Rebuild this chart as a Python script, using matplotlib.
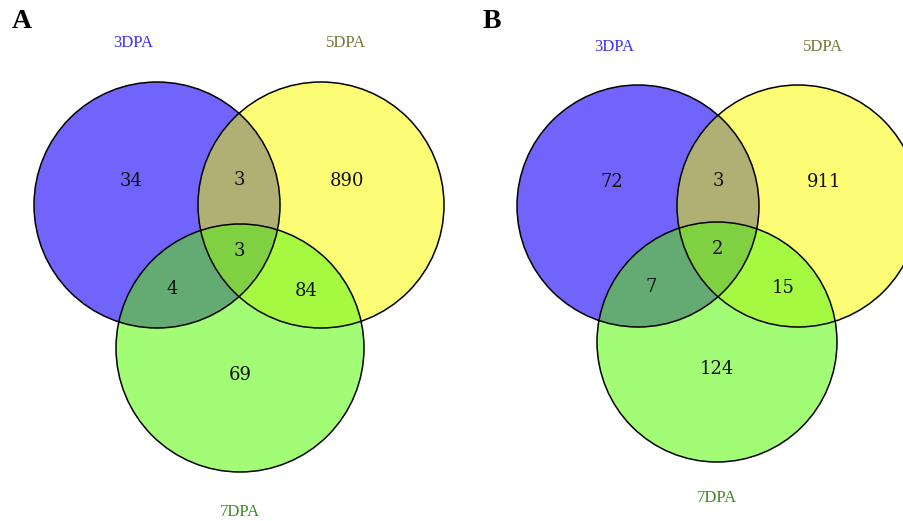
import numpy as np
import matplotlib
matplotlib.use("Agg")
import matplotlib.pyplot as plt
from matplotlib.patches import Circle, Polygon

# Set names and region counts for each panel
set_names = ["3DPA", "5DPA", "7DPA"]
panels = ["A", "B"]
# order: only 3DPA, only 5DPA, only 7DPA, 3&5, 3&7, 5&7, all three
counts_a = [34, 890, 69, 3, 4, 84, 3]
counts_b = [72, 911, 124, 3, 7, 15, 2]

name_colors = ["#3f33f5", "#76763a", "#3f8a25"]
fill_single = ["#7164fa", "#fcfc75", "#a3fc75"]
fill_ab = "#b0b075"
fill_ac = "#64aa73"
fill_bc = "#a5fa41"
fill_abc = "#7fd141"

# circle layout (figure pixel units): centers and radius per set
layout_a = {"c": [(157, 205), (321, 205), (240, 348)], "r": [123, 123, 124],
            "top": 43, "bottom": 512}
layout_b = {"c": [(638, 206), (798, 206), (717, 342)], "r": [121, 121, 120],
            "top": 47, "bottom": 498}


def lens(c1, r1, c2, r2, n=720):
    # polygon of the intersection of two circles
    t = np.linspace(0, 2 * np.pi, n)
    p1 = np.c_[c1[0] + r1 * np.cos(t), c1[1] + r1 * np.sin(t)]
    p2 = np.c_[c2[0] + r2 * np.cos(t), c2[1] + r2 * np.sin(t)]
    p1 = p1[np.hypot(p1[:, 0] - c2[0], p1[:, 1] - c2[1]) <= r2]
    p2 = p2[np.hypot(p2[:, 0] - c1[0], p2[:, 1] - c1[1]) <= r1]
    pts = np.vstack([p1, p2])
    m = pts.mean(axis=0)
    ang = np.arctan2(pts[:, 1] - m[1], pts[:, 0] - m[0])
    return pts[np.argsort(ang)]


def draw_venn(ax, layout, counts):
    cs, rs = layout["c"], layout["r"]

    for c, r, col in zip(cs, rs, fill_single):
        ax.add_patch(Circle(c, r, facecolor=col, edgecolor="none", zorder=1))

    # pairwise overlaps, clipped to the other circle
    pairs = [(0, 1, fill_ab), (0, 2, fill_ac), (1, 2, fill_bc)]
    for i, j, col in pairs:
        clip = Circle(cs[i], rs[i], transform=ax.transData)
        p = Circle(cs[j], rs[j], facecolor=col, edgecolor="none", zorder=2)
        ax.add_patch(p)
        p.set_clip_path(clip)

    # triple overlap
    lens_ab = Polygon(lens(cs[0], rs[0], cs[1], rs[1]), closed=True,
                      transform=ax.transData)
    p = Circle(cs[2], rs[2], facecolor=fill_abc, edgecolor="none", zorder=3)
    ax.add_patch(p)
    p.set_clip_path(lens_ab)

    for c, r in zip(cs, rs):
        ax.add_patch(Circle(c, r, facecolor="none", edgecolor="black",
                            lw=1.1, zorder=4))

    (ax_, ay), (bx, by), (cx, cy) = cs
    mid_ab = (ax_ + bx) / 2
    pos = [
        (ax_ - 26, ay - 24),
        (bx + 26, by - 24),
        (cx, cy + 27),
        (mid_ab, ay - 25),
        ((ax_ + cx) / 2 - 26, (ay + cy) / 2 + 13),
        ((bx + cx) / 2 + 26, (by + cy) / 2 + 14),
        (mid_ab, (ay + cy) / 2 - 25),
    ]
    for (x, y), v in zip(pos, counts):
        ax.text(x, y, str(v), ha="center", va="center", fontsize=13,
                family="DejaVu Serif", color="#111111", zorder=5)

    # set name labels
    ax.text(ax_ - 24, layout["top"], set_names[0], color=name_colors[0],
            ha="center", va="center", fontsize=12, family="Liberation Serif")
    ax.text(bx + 25, layout["top"], set_names[1], color=name_colors[1],
            ha="center", va="center", fontsize=12, family="Liberation Serif")
    ax.text(cx, layout["bottom"], set_names[2], color=name_colors[2],
            ha="center", va="center", fontsize=12, family="Liberation Serif")


fig = plt.figure(figsize=(9.04, 5.21), dpi=100)
ax = fig.add_axes([0, 0, 1, 1])
ax.set_xlim(0, 904)
ax.set_ylim(521, 0)
ax.set_aspect("equal")
ax.axis("off")

draw_venn(ax, layout_a, counts_a)
draw_venn(ax, layout_b, counts_b)

ax.text(22, 22, panels[0], fontsize=20, fontweight="bold",
        family="Liberation Serif", ha="center", va="center")
ax.text(492, 22, panels[1], fontsize=20, fontweight="bold",
        family="Liberation Serif", ha="center", va="center")

fig.savefig("out.png", dpi=100)
